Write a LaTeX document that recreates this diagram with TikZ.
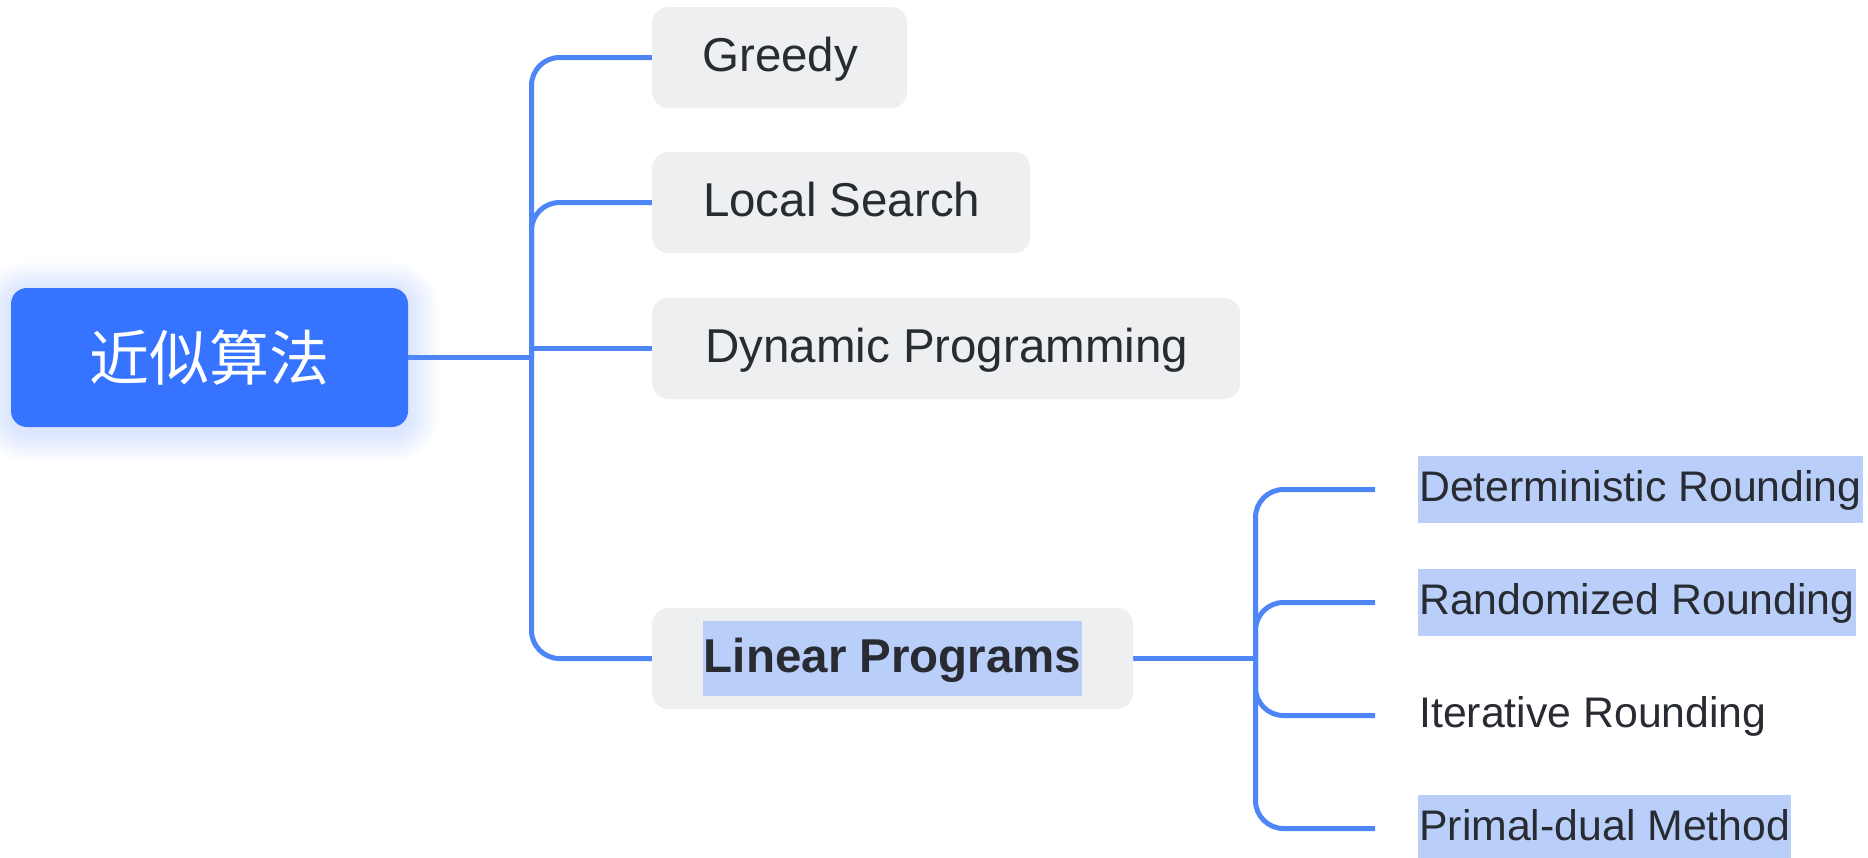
\documentclass[tikz,border=0pt]{standalone}
\usepackage{fontspec}
\setmainfont{Liberation Sans}
\newfontfamily\cjk{Noto Sans CJK SC}
\usetikzlibrary{backgrounds}

\definecolor{rootblue}{HTML}{3673FF}
\definecolor{linkblue}{HTML}{4E86F8}
\definecolor{boxgrey}{HTML}{EEEFF1}
\definecolor{inktext}{HTML}{282B31}
\definecolor{marker}{HTML}{BACEFA}

% highlighted label and an unhighlighted one with the same vertical extent
% (1.05em above the baseline, 0.48em below it)
\newcommand\hlmark[1]{{\setlength{\fboxsep}{1pt}\colorbox{marker}{\rule[-0.48em]{0pt}{1.53em}#1}}}
\newcommand\nomark[1]{\rule[-0.48em]{0pt}{1.53em}\hspace{1pt}#1\hspace{1pt}}

\tikzset{
  rootbox/.style={rectangle, rounded corners=16pt, fill=rootblue, text=white,
    minimum width=397pt, minimum height=139pt, inner sep=0pt,
    font=\cjk\fontsize{60}{70}\selectfont},
  topic/.style={rectangle, rounded corners=16pt, fill=boxgrey, text=inktext,
    anchor=west, minimum height=101pt, inner xsep=20pt, inner ysep=0pt,
    font=\fontsize{47.5}{56}\selectfont},
  leaf/.style={anchor=west, inner sep=0pt, text=inktext,
    font=\fontsize{42.8}{50}\selectfont},
  link/.style={draw=linkblue, line width=5pt, rounded corners=28pt},
}

\begin{document}
\begin{tikzpicture}[x=1pt, y=-1pt]
\useasboundingbox (0,0) rectangle (1868,857);

% central topic with its soft glow
\node[rootbox] (root) at (209.5,357.5) {近似算法};
\begin{scope}[on background layer]
  \foreach \g in {1,...,12}
    \fill[rootblue, opacity=0.014, rounded corners={16pt+\g*2.5pt}]
      ([shift={(-\g*2.5pt,\g*2.5pt-4pt)}]root.north west) rectangle
      ([shift={(\g*2.5pt,-\g*2.5pt-4pt)}]root.south east);
\end{scope}

% first-level topics
\node[topic, minimum width=255pt] (greedy) at (652,57.5)  {\nomark{Greedy}};
\node[topic, minimum width=378pt] (local)  at (652,202.5) {\nomark{Local Search}};
\node[topic, minimum width=588pt] (dynprog) at (652,348.5)  {\nomark{Dynamic Programming}};
\node[topic, minimum width=481pt] (linprog) at (652,658.5)  {\bfseries\hlmark{Linear Programs}};

% second-level topics
\node[leaf] (determ) at (1418,489.5) {\hlmark{Deterministic Rounding}};
\node[leaf] (random) at (1418,602.5) {\hlmark{Randomized Rounding}};
\node[leaf] (iterat) at (1418,715.5) {\nomark{Iterative Rounding}};
\node[leaf] (primal) at (1418,828.5) {\hlmark{Primal-dual Method}};

% branch points
\coordinate (fork) at (531.5,357.5);
\coordinate (subfork) at (1255.5,658.5);

\begin{scope}[on background layer]
  \draw[link] (root.east) -- (fork);
  \draw[link] (fork) |- (greedy.west);
  \draw[link] (fork) |- (local.west);
  \draw[link, rounded corners=0pt] (fork) |- (dynprog.west);
  \draw[link] (fork) |- (linprog.west);

  \draw[link] (linprog.east) -- (subfork);
  \draw[link] (subfork) |- ([xshift=-43pt]determ.west);
  \draw[link] (subfork) |- ([xshift=-43pt]random.west);
  \draw[link] (subfork) |- ([xshift=-43pt]iterat.west);
  \draw[link] (subfork) |- ([xshift=-43pt]primal.west);
\end{scope}
\end{tikzpicture}
\end{document}
